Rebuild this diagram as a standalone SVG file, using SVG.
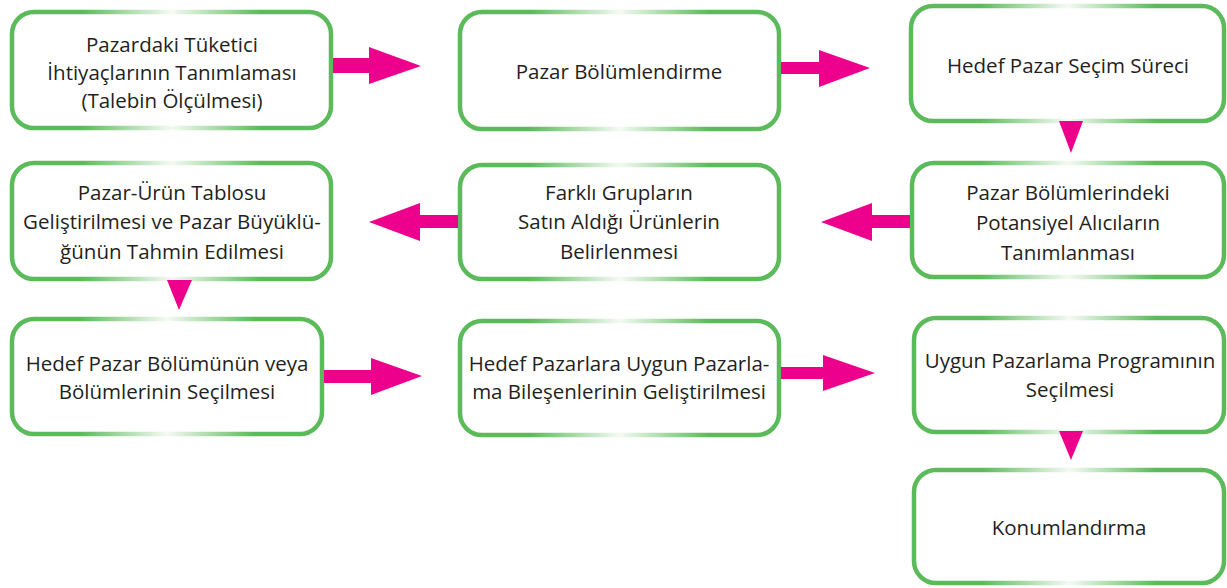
<svg xmlns="http://www.w3.org/2000/svg" width="1227" height="588" viewBox="0 0 1227 588">
<defs>
<linearGradient id="edge" x1="0" y1="0" x2="1" y2="0">
<stop offset="0" stop-color="#5bbb5a"/>
<stop offset="0.22" stop-color="#5bbb5a"/>
<stop offset="0.5" stop-color="#f5faf4"/>
<stop offset="0.78" stop-color="#5bbb5a"/>
<stop offset="1" stop-color="#5bbb5a"/>
</linearGradient>
</defs>
<style>
.box{fill:#ffffff;stroke:url(#edge);stroke-width:4.5}
.t{font-family:"Open Sans","Liberation Sans",sans-serif;font-size:20.5px;fill:#231f20;text-anchor:middle}
.a{fill:#ec008c;stroke:none}
</style>
<rect width="1227" height="588" fill="#ffffff"/>
<g id="n1"><rect class="box" x="12" y="12" width="319" height="116" rx="22"/>
<text class="t" x="172" y="52">Pazardaki Tüketici</text>
<text class="t" x="172" y="80">İhtiyaçlarının Tanımlaması</text>
<text class="t" x="172" y="108">(Talebin Ölçülmesi)</text></g>
<g id="n2"><rect class="box" x="460" y="12" width="319" height="117" rx="22"/>
<text class="t" x="619" y="79">Pazar Bölümlendirme</text></g>
<g id="n3"><rect class="box" x="911" y="6" width="313" height="115" rx="22"/>
<text class="t" x="1068" y="73">Hedef Pazar Seçim Süreci</text></g>
<g id="n4"><rect class="box" x="12" y="163" width="319" height="116" rx="22"/>
<text class="t" x="172" y="200">Pazar-Ürün Tablosu</text>
<text class="t" x="172" y="229">Geliştirilmesi ve Pazar Büyüklü-</text>
<text class="t" x="172" y="259">ğünün Tahmin Edilmesi</text></g>
<g id="n5"><rect class="box" x="460" y="165" width="319" height="114" rx="22"/>
<text class="t" x="619" y="200">Farklı Grupların</text>
<text class="t" x="619" y="229">Satın Aldığı Ürünlerin</text>
<text class="t" x="619" y="259">Belirlenmesi</text></g>
<g id="n6"><rect class="box" x="912" y="163" width="312" height="114" rx="22"/>
<text class="t" x="1068" y="200">Pazar Bölümlerindeki</text>
<text class="t" x="1068" y="230">Potansiyel Alıcıların</text>
<text class="t" x="1068" y="260">Tanımlanması</text></g>
<g id="n7"><rect class="box" x="12" y="319" width="310" height="115" rx="22"/>
<text class="t" x="167" y="371">Hedef Pazar Bölümünün veya</text>
<text class="t" x="167" y="399">Bölümlerinin Seçilmesi</text></g>
<g id="n8"><rect class="box" x="460" y="321" width="319" height="114" rx="22"/>
<text class="t" x="619" y="371">Hedef Pazarlara Uygun Pazarla-</text>
<text class="t" x="619" y="399">ma Bileşenlerinin Geliştirilmesi</text></g>
<g id="n9"><rect class="box" x="914" y="318" width="310" height="114" rx="22"/>
<text class="t" x="1070" y="368">Uygun Pazarlama Programının</text>
<text class="t" x="1070" y="397">Seçilmesi</text></g>
<g id="n10"><rect class="box" x="914" y="470" width="310" height="113" rx="22"/>
<text class="t" x="1069" y="535">Konumlandırma</text></g>
<g id="connectors">
<polygon class="a" points="333,58 369,58 369,47 421,66 369,84 369,73 333,73"/>
<polygon class="a" points="781,62 819,62 819,50 870,68 819,87 819,74 781,74"/>
<polygon class="a" points="1059,121 1083,121 1071,153"/>
<polygon class="a" points="910,215 872,215 872,203 821,222 872,241 872,228 910,228"/>
<polygon class="a" points="458,215 420,215 420,203 369,222 420,241 420,228 458,228"/>
<polygon class="a" points="167,280 192,280 179,310"/>
<polygon class="a" points="324,370 371,370 371,358 422,376 371,395 371,383 324,383"/>
<polygon class="a" points="781,367 823,367 823,355 875,373 823,391 823,379 781,379"/>
<polygon class="a" points="1059,431 1083,431 1071,460"/>
</g>
</svg>
